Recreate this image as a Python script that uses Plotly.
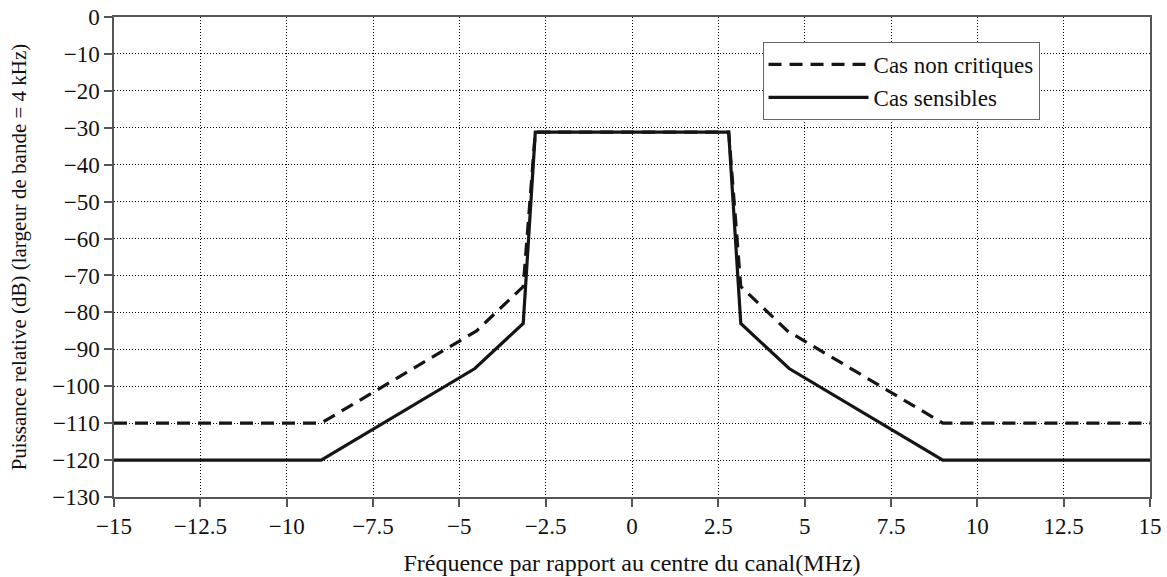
import plotly.graph_objects as go

# Frequency breakpoints (MHz) and relative power (dB)
freq_non_critical = [-15, -9, -4.5, -3.15, -2.8, 2.8, 3.15, 4.5, 9, 15]
power_non_critical = [-110, -110, -85, -73, -31.2, -31.2, -73, -85, -110, -110]

freq_sensitive = [-15, -9, -4.55, -3.15, -2.8, 2.8, 3.15, 4.55, 9, 15]
power_sensitive = [-120, -120, -95.2, -83, -31.2, -31.2, -83, -95.2, -120, -120]

x_ticks = [-15, -12.5, -10, -7.5, -5, -2.5, 0, 2.5, 5, 7.5, 10, 12.5, 15]
x_tick_labels = ["\u221215", "\u221212.5", "\u221210", "\u22127.5", "\u22125", "\u22122.5",
                 "0", "2.5", "5", "7.5", "10", "12.5", "15"]
y_ticks = list(range(0, -131, -10))
y_tick_labels = ["0"] + ["\u2212%d" % (-v) for v in y_ticks[1:]]

FONT = "Liberation Serif, Times New Roman, serif"

fig = go.Figure()
fig.add_trace(go.Scatter(
    x=freq_non_critical, y=power_non_critical, mode="lines",
    name="Cas non critiques",
    line=dict(color="#151515", width=3.2, dash="13px,8px"),
))
fig.add_trace(go.Scatter(
    x=freq_sensitive, y=power_sensitive, mode="lines",
    name="Cas sensibles",
    line=dict(color="#151515", width=3.2),
))

axis_common = dict(
    showline=True, linecolor="#555555", linewidth=1.5, mirror=True,
    showgrid=True, gridcolor="#000000", gridwidth=1, griddash="1px,2px",
    ticks="outside", ticklen=8, tickcolor="#555555", tickwidth=1.5,
    zeroline=False, automargin=False,
    tickfont=dict(family=FONT, size=23, color="#111111"),
)

fig.update_xaxes(
    range=[-15, 15], tickmode="array", tickvals=x_ticks, ticktext=x_tick_labels,
    title=dict(text="Fréquence par rapport au centre du canal(MHz)",
               font=dict(family=FONT, size=24, color="#111111"), standoff=16),
    **axis_common,
)
fig.update_yaxes(
    range=[-130, 0], tickmode="array", tickvals=y_ticks, ticktext=y_tick_labels,
    title=dict(text="Puissance relative (dB) (largeur de bande = 4 kHz)",
               font=dict(family=FONT, size=21, color="#111111"), standoff=20),
    **axis_common,
)

fig.update_layout(
    width=1167, height=577,
    margin=dict(l=114, r=17, t=17, b=80),
    paper_bgcolor="white", plot_bgcolor="white",
    font=dict(family=FONT, size=22, color="#111111"),
    showlegend=True,
    legend=dict(
        x=0.626, y=0.948, xanchor="left", yanchor="top",
        bgcolor="white", bordercolor="#666666", borderwidth=1,
        font=dict(family=FONT, size=23, color="#111111"),
        itemwidth=100, tracegroupgap=0,
    ),
)

fig.write_html("out.html",
               config={"displayModeBar": False},
               post_script="document.body.style.margin='0';document.body.style.overflow='hidden';")
